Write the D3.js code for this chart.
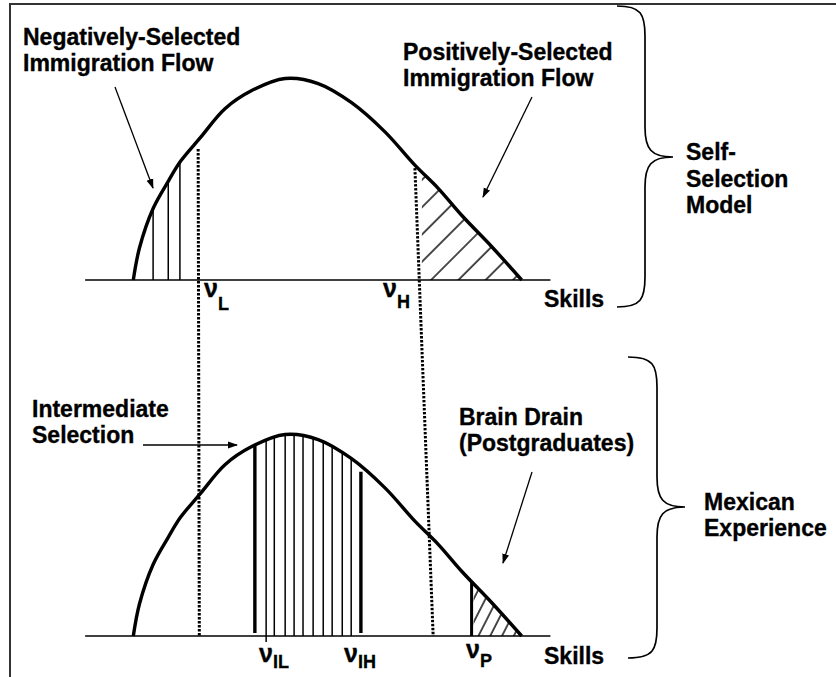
<!doctype html>
<html>
<head>
<style>
    body { margin: 0; background: #fff; }
    text { font-family: "Liberation Sans", Arial, sans-serif; font-weight: bold; fill: #000; stroke: #000; stroke-width: 0.35px; }
    .lbl { font-size: 23px; }
    .nu { font-size: 25px; }
    .sub { font-size: 18px; }
</style>
<script src="https://d3js.org/d3.v7.min.js"></script>
</head>
<body>
<svg width="836" height="677"></svg>
<script>
    // skill distribution (same shape in both panels)
    var skill   = [0, 0.16, 0.51, 0.90, 1.22, 1.72, 2.36, 3.05, 3.91, 4.76, 5.62, 6.48, 7.25, 7.85, 8.46, 9.23, 10];
    var density = [0, 0.16, 0.355, 0.49, 0.59, 0.705, 0.85, 0.94, 1.00, 0.975, 0.88, 0.735, 0.57, 0.455, 0.32, 0.165, 0];

    var axisExtent = [-1.24, 10.74];

    // self-selection model
    var negLines = [0.51, 0.90, 1.20];
    var vL = [1.67, 1.70];      // top panel, bottom panel
    var vLTop = 0.65;
    var vH = [7.25, 7.72];
    var vHTop = 0.555;
    var posStart = 7.43;

    // mexican experience
    var interLines = [3.42, 3.63, 3.91, 4.14, 4.37, 4.63, 4.89, 5.12, 5.38, 5.61];
    var interThick = [3.13, 5.86];
    var interThickTop = [1.2, 0.815];
    var vIL = 3.42;
    var vP = 8.71;

    var pts = skill.map(function(s, i) { return {s: s, d: density[i]}; });

    var svg = d3.select("svg");
    var x = d3.scaleLinear().domain([0, 10]).range([133.3, 521.7]);
    var yTop = d3.scaleLinear().domain([0, 1]).range([280, 78.5]);
    var yBot = d3.scaleLinear().domain([0, 1]).range([636, 434.5]);
    var curve = d3.curveCatmullRom.alpha(0.5);

    var defs = svg.append("defs");

    defs.append("marker")
        .attr("id", "arrow")
        .attr("markerUnits", "userSpaceOnUse")
        .attr("markerWidth", 10).attr("markerHeight", 8)
        .attr("refX", 9).attr("refY", 4)
        .attr("orient", "auto")
        .append("path").attr("d", "M0,0.5 L10,4 L0,7.5 z").attr("fill", "#000");

    function hatch(id, w, angle) {
        var p = defs.append("pattern")
            .attr("id", id)
            .attr("patternUnits", "userSpaceOnUse")
            .attr("width", w).attr("height", 10)
            .attr("patternTransform", "rotate(" + angle + ")");
        p.append("line")
            .attr("x1", 1).attr("y1", 0).attr("x2", 1).attr("y2", 10)
            .attr("stroke", "#000").attr("stroke-width", 1.4);
    }
    hatch("hatchPos", 19.3, 45);
    hatch("hatchP", 10.5, 27);

    function areaFor(y) {
        return d3.area()
            .x(function(d) { return x(d.s); })
            .y0(y(0))
            .y1(function(d) { return y(d.d); })
            .curve(curve);
    }
    function lineFor(y) {
        return d3.line()
            .x(function(d) { return x(d.s); })
            .y(function(d) { return y(d.d); })
            .curve(curve);
    }

    defs.append("clipPath").attr("id", "clipTop")
        .append("path").attr("d", areaFor(yTop)(pts));
    defs.append("clipPath").attr("id", "clipBot")
        .append("path").attr("d", areaFor(yBot)(pts));

    // frame
    svg.append("path")
        .attr("d", "M10,677 L10,4 L836,4")
        .attr("fill", "none").attr("stroke", "#333").attr("stroke-width", 2);

    // ---- top panel ----
    var gt = svg.append("g").attr("clip-path", "url(#clipTop)");
    gt.selectAll(".neg")
        .data(negLines)
        .enter().append("line")
        .attr("x1", function(d) { return x(d); })
        .attr("x2", function(d) { return x(d); })
        .attr("y1", yTop(0)).attr("y2", yTop(1.1))
        .attr("stroke", "#000").attr("stroke-width", 1.5);
    gt.append("rect")
        .attr("x", x(posStart)).attr("y", yTop(1.1))
        .attr("width", x(10.2) - x(posStart))
        .attr("height", yTop(0) - yTop(1.1))
        .attr("fill", "url(#hatchPos)");

    // ---- bottom panel ----
    var gb = svg.append("g").attr("clip-path", "url(#clipBot)");
    gb.selectAll(".inter")
        .data(interLines)
        .enter().append("line")
        .attr("x1", function(d) { return x(d); })
        .attr("x2", function(d) { return x(d); })
        .attr("y1", yBot(0)).attr("y2", yBot(1.1))
        .attr("stroke", "#000").attr("stroke-width", 1.5);
    gb.selectAll(".thick")
        .data(interThick)
        .enter().append("line")
        .attr("x1", function(d) { return x(d); })
        .attr("x2", function(d) { return x(d); })
        .attr("y1", yBot(0.015))
        .attr("y2", function(d, i) { return yBot(interThickTop[i]); })
        .attr("stroke", "#000").attr("stroke-width", 3.4);
    gb.append("line")
        .attr("x1", x(vP)).attr("x2", x(vP))
        .attr("y1", yBot(0)).attr("y2", yBot(1))
        .attr("stroke", "#000").attr("stroke-width", 3);
    gb.append("rect")
        .attr("x", x(vP) + 2).attr("y", yBot(1.1))
        .attr("width", x(10.2) - x(vP))
        .attr("height", yBot(0) - yBot(1.1))
        .attr("fill", "url(#hatchP)");

    // curves and baselines
    [yTop, yBot].forEach(function(y) {
        svg.append("line")
            .attr("x1", x(axisExtent[0])).attr("x2", x(axisExtent[1]))
            .attr("y1", y(0)).attr("y2", y(0))
            .attr("stroke", "#000").attr("stroke-width", 1.5);
        svg.append("path")
            .attr("d", lineFor(y)(pts))
            .attr("fill", "none").attr("stroke", "#000").attr("stroke-width", 3.4);
    });

    // dotted thresholds running through both panels
    [[vL, vLTop], [vH, vHTop]].forEach(function(v) {
        svg.append("line")
            .attr("x1", x(v[0][0])).attr("y1", yTop(v[1]))
            .attr("x2", x(v[0][1])).attr("y2", yBot(0))
            .attr("stroke", "#000").attr("stroke-width", 3)
            .attr("stroke-dasharray", "2.4,1.6");
    });

    // small tick under nu_IL
    svg.append("line")
        .attr("x1", x(vIL)).attr("x2", x(vIL))
        .attr("y1", yBot(0)).attr("y2", yBot(0) + 6)
        .attr("stroke", "#000").attr("stroke-width", 1.5);

    // arrows
    [[115, 87, 153, 188], [532, 97, 483, 197], [143, 445, 237, 445], [532, 472, 503, 563]]
        .forEach(function(a) {
            svg.append("line")
                .attr("x1", a[0]).attr("y1", a[1]).attr("x2", a[2]).attr("y2", a[3])
                .attr("stroke", "#000").attr("stroke-width", 1.3)
                .attr("marker-end", "url(#arrow)");
        });

    // braces
    function brace(x0, x1, x2, yT, yM, yB, r) {
        return "M" + x0 + "," + yT +
            " C" + (x1 - 4) + "," + yT + " " + x1 + "," + (yT + 8) + " " + x1 + "," + (yT + r) +
            " L" + x1 + "," + (yM - r) +
            " C" + x1 + "," + (yM - 8) + " " + (x1 + 6) + "," + yM + " " + x2 + "," + yM +
            " C" + (x1 + 6) + "," + yM + " " + x1 + "," + (yM + 8) + " " + x1 + "," + (yM + r) +
            " L" + x1 + "," + (yB - r) +
            " C" + x1 + "," + (yB - 8) + " " + (x1 - 4) + "," + yB + " " + x0 + "," + yB;
    }
    svg.append("path").attr("d", brace(617, 645, 673, 6, 157, 307, 30))
        .attr("fill", "none").attr("stroke", "#000").attr("stroke-width", 1.7);
    svg.append("path").attr("d", brace(628, 657, 685, 357, 507, 658, 30))
        .attr("fill", "none").attr("stroke", "#000").attr("stroke-width", 1.7);

    // text blocks
    function block(lines, x0, y0, dy) {
        var t = svg.append("text").attr("class", "lbl");
        lines.forEach(function(s, i) {
            t.append("tspan").attr("x", x0).attr("y", y0 + i * dy).text(s);
        });
    }
    block(["Negatively-Selected", "Immigration Flow"], 23, 45, 26);
    block(["Positively-Selected", "Immigration Flow"], 403, 60, 26);
    block(["Self-", "Selection", "Model"], 686, 160, 26.5);
    block(["Intermediate", "Selection"], 32, 417, 26);
    block(["Brain Drain", "(Postgraduates)"], 459, 425, 26);
    block(["Mexican", "Experience"], 704, 510, 26);
    block(["Skills"], 544, 307, 0);
    block(["Skills"], 544, 664, 0);

    function nu(sub, x0, y0, subDx, subDy) {
        var t = svg.append("text").attr("x", x0).attr("y", y0);
        t.append("tspan").attr("class", "nu").text("\u03bd");
        t.append("tspan").attr("class", "sub").attr("dy", subDy).attr("dx", subDx).text(sub);
    }
    nu("L", 204, 297, 0, 13);
    nu("H", 383, 297, 0, 11);
    nu("IL", 259, 662, 0, 6);
    nu("IH", 344, 662, 0, 6);
    nu("P", 466, 658, 0, 9);
</script>
</body>
</html>
